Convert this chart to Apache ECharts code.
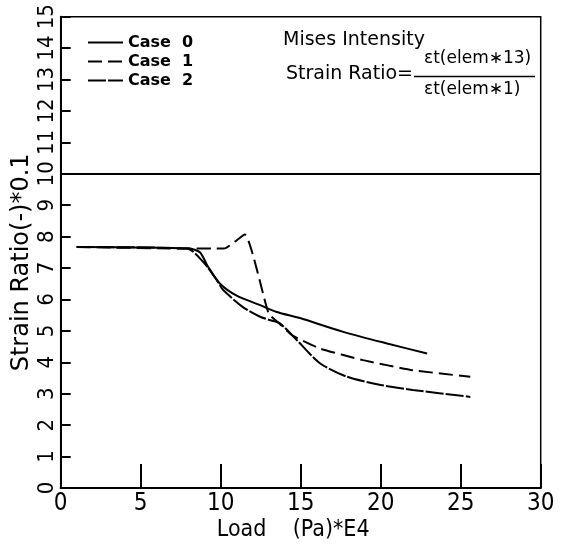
<!DOCTYPE html>
<html>
<head>
<meta charset="utf-8">
<script src="https://cdn.jsdelivr.net/npm/echarts@6/dist/echarts.min.js"></script>
<style>html,body{margin:0;padding:0;background:#fff;}#c{width:563px;height:547px;}</style>
</head>
<body>
<div id="c"></div>
<script>
// Load (Pa)*E4 vs Strain Ratio(-)*0.1
var case0 = [[1,7.67],[8,7.62],[8.7,7.5],[9.2,7.05],[9.96,6.5],[11,6.12],[12.46,5.82],[13.5,5.6],[15,5.4],[17.66,4.97],[20.4,4.6],[22.9,4.28]];
var case1 = [[1,7.67],[8,7.62],[10.2,7.62],[11.5,8.07],[13.0,5.55],[13.7,5.22],[14.5,4.85],[16.2,4.44],[18.9,4.07],[22,3.75],[25.6,3.54]];
var case2 = [[1,7.67],[7.9,7.62],[8.9,7.2],[9.75,6.62],[10.16,6.3],[11.41,5.75],[12.46,5.45],[13.1,5.34],[13.7,5.24],[14.75,4.71],[16.2,3.97],[17.9,3.54],[20,3.28],[22,3.12],[25.6,2.9]];
var seriesNames = ['Case  0','Case  1','Case  2'];
var refLevel = 10;
var xTicks = [0,5,10,15,20,25,30];
var yTicks = [0,1,2,3,4,5,6,7,8,9,10,11,12,13,14,15];

var NARROW = '"DejaVu Sans Condensed","Liberation Sans Narrow",sans-serif';
var TXT = '"DejaVu Sans",sans-serif';
var chart = echarts.init(document.getElementById('c'), null, {renderer:'canvas'});
var lineW = 2;
chart.setOption({
  animation:false,
  backgroundColor:'#fff',
  grid:{left:60.7,right:22.3,top:16.7,bottom:59,show:true,borderColor:'#000',borderWidth:1.5,containLabel:false,outerBoundsMode:'none'},
  legend:{
    orient:'vertical',left:82,top:28,itemWidth:35,itemHeight:14,itemGap:0,
    data:seriesNames,
    itemStyle:{opacity:0},
    textStyle:{fontFamily:TXT,fontSize:16,fontWeight:'bold',color:'#000',lineHeight:19}
  },
  xAxis:{
    type:'value',min:xTicks[0],max:xTicks[xTicks.length-1],interval:5,
    name:'Load    (Pa)*E4',nameLocation:'middle',nameGap:31,nameMoveOverlap:false,
    nameTextStyle:{fontFamily:NARROW,fontSize:23,color:'#000',padding:[0,15,0,0]},
    axisLine:{lineStyle:{color:'#000',width:2}},
    axisTick:{inside:true,length:24,lineStyle:{color:'#000',width:2}},
    axisLabel:{fontFamily:NARROW,fontSize:24,color:'#000',margin:4},
    splitLine:{show:false}
  },
  yAxis:{
    type:'value',min:yTicks[0],max:yTicks[yTicks.length-1],interval:1,
    name:'Strain Ratio(-)*0.1',nameLocation:'middle',nameGap:27,nameMoveOverlap:false,
    nameTextStyle:{fontFamily:TXT,fontSize:24,color:'#000',padding:[0,20,0,0]},
    axisLine:{lineStyle:{color:'#000',width:2}},
    axisTick:{inside:true,length:10,lineStyle:{color:'#000',width:2}},
    axisLabel:{fontFamily:NARROW,fontSize:22,color:'#000',margin:2,rotate:90},
    splitLine:{show:false}
  },
  graphic:[
    {type:'text',left:283,top:31,style:{text:'Mises Intensity',font:'19px '+TXT,fill:'#000'}},
    {type:'text',left:286,top:65,style:{text:'Strain Ratio=',font:'19px '+TXT,fill:'#000'}},
    {type:'text',left:424,top:50,style:{text:'\u03b5t(elem\u221713)',font:'17px '+TXT,fill:'#000'}},
    {type:'line',shape:{x1:414,y1:76.5,x2:535,y2:76.5},style:{stroke:'#000',lineWidth:1.5}},
    {type:'text',left:424,top:81,style:{text:'\u03b5t(elem\u22171)',font:'17px '+TXT,fill:'#000'}}
  ],
  series:[
    {name:seriesNames[0],type:'line',data:case0,symbol:'none',smooth:0.25,lineStyle:{color:'#000',width:lineW,type:'solid'},itemStyle:{color:'#000'},
     markLine:{silent:true,symbol:['none','none'],label:{show:false},lineStyle:{color:'#000',width:2,type:'solid'},data:[{yAxis:refLevel}]}},
    {name:seriesNames[1],type:'line',data:case1,symbol:'none',smooth:0.15,lineStyle:{color:'#000',width:lineW,type:[14,6]},itemStyle:{color:'#000'}},
    {name:seriesNames[2],type:'line',data:case2,symbol:'none',smooth:0.25,lineStyle:{color:'#000',width:lineW,type:[18,2]},itemStyle:{color:'#000'}}
  ]
});
</script>
</body>
</html>
